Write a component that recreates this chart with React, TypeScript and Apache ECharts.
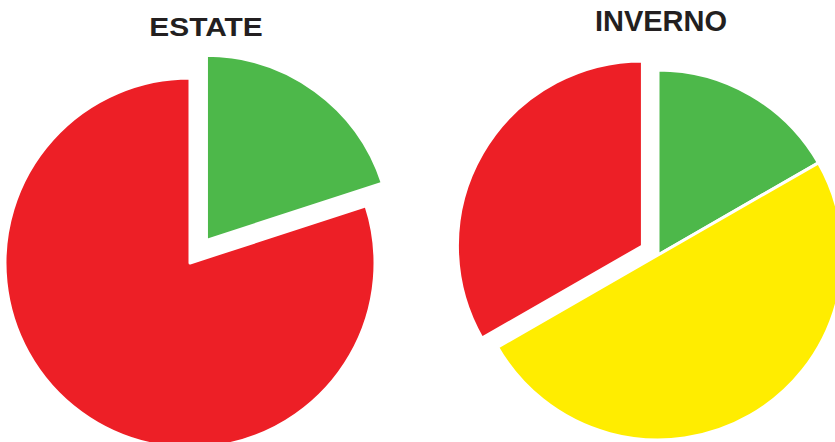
import React, { useEffect, useRef } from "react";
import * as echarts from "echarts";

const titles = ["ESTATE", "INVERNO"];
const estateNames = ["Verde", "Rosso"];
const estateValues = [20, 80];
const estateColors = ["#4DB84A", "#ED1F26"];
const estateSelected = [true, false];
const invernoNames = ["Verde", "Giallo", "Rosso"];
const invernoValues = [16.7, 50, 33.3];
const invernoColors = ["#4DB84A", "#FFED00", "#ED1F26"];
const invernoSelected = [false, false, true];

export default function App() {
  const ref = useRef<HTMLDivElement>(null);
  useEffect(() => {
    if (!ref.current) return;
    const chart = echarts.init(ref.current, null, { renderer: "svg" });
    const mk = (names: string[], vals: number[], cols: string[], sel: boolean[]) =>
      names.map((n, i) => ({ name: n, value: vals[i], selected: sel[i], itemStyle: { color: cols[i] } }));
    const common = {
      type: "pie",
      radius: 185,
      startAngle: 90,
      clockwise: true,
      selectedMode: "multiple",
      label: { show: false },
      labelLine: { show: false },
      emphasis: { disabled: true },
      itemStyle: { borderColor: "#ffffff", borderWidth: 3 },
      silent: true,
    };
    chart.setOption({
      animation: false,
      backgroundColor: "#ffffff",
      graphic: [
        {
          type: "text",
          x: 206,
          y: 40,
          scaleX: 1.15,
          style: {
            text: titles[0],
            font: "bold 26px 'Liberation Sans', Arial, sans-serif",
            fill: "#231F20",
            textAlign: "center",
            textVerticalAlign: "bottom",
          },
        },
        {
          type: "text",
          x: 661,
          y: 35,
          style: {
            text: titles[1],
            font: "bold 29px 'Liberation Sans', Arial, sans-serif",
            fill: "#231F20",
            textAlign: "center",
            textVerticalAlign: "bottom",
          },
        },
      ],
      series: [
        {
          ...common,
          name: titles[0],
          center: [190, 263],
          selectedOffset: 28,
          data: mk(estateNames, estateValues, estateColors, estateSelected),
        },
        {
          ...common,
          name: titles[1],
          center: [658, 255],
          selectedOffset: 18,
          data: mk(invernoNames, invernoValues, invernoColors, invernoSelected),
        },
      ],
    });
    return () => chart.dispose();
  }, []);
  return (
    <div
      ref={ref}
      style={{ position: "fixed", left: 0, top: 0, width: 835, height: 442 }}
    />
  );
}
